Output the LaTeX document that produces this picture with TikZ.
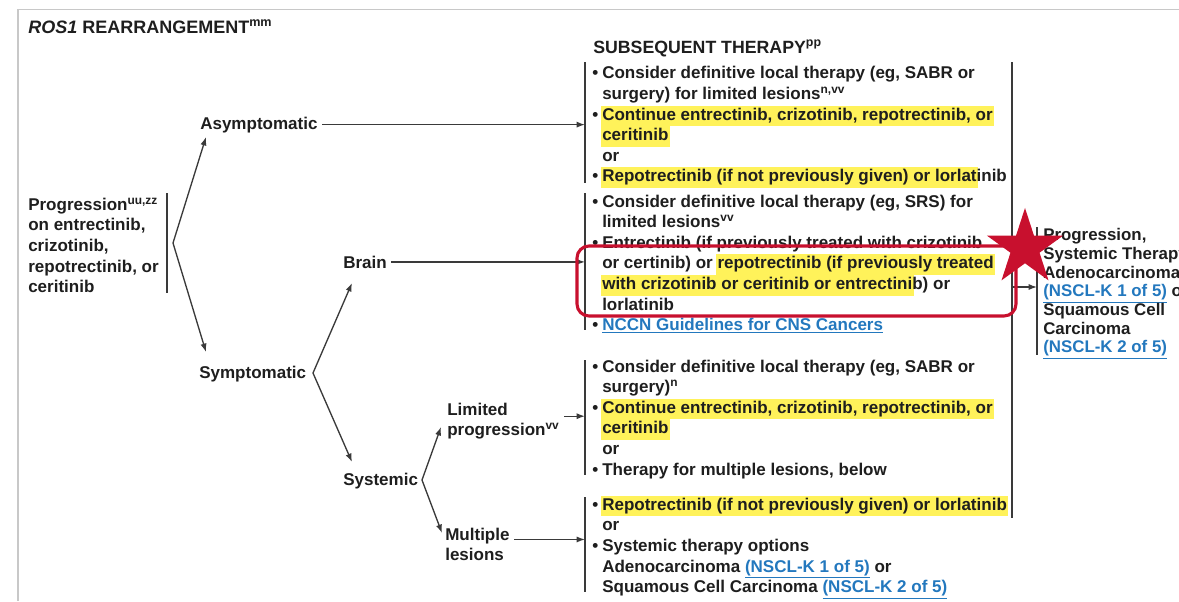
\documentclass[tikz,border=0pt]{standalone}
\usepackage{fontspec}
\setmainfont{Liberation Sans}
\usepackage{tikz}
\usetikzlibrary{arrows.meta, positioning, shapes.geometric}
\usepackage{xcolor}
\definecolor{hlyellow}{RGB}{255,242,90}
\definecolor{linkblue}{RGB}{35,120,190}
\definecolor{markred}{RGB}{200,16,46}
\definecolor{linegray}{RGB}{58,58,58}
\definecolor{framegray}{RGB}{200,200,200}
\definecolor{inkblack}{RGB}{30,30,30}
% bullet, continuation indent, highlight and link
\newcommand{\bitem}{\strut\makebox[7.1pt][l]{•}}
\newcommand{\cont}{\hspace*{7.1pt}}
\newcommand{\hlt}[1]{\kern-1pt{\setlength{\fboxsep}{0pt}\colorbox{hlyellow}{\kern1pt\strut #1\kern1pt}}\kern-1pt}
\newcommand{\lnk}[1]{\textcolor{linkblue}{\underline{#1}}}
\tikzset{%
	branch label/.style={
		anchor=base west,
		inner sep=0pt
	},
	option block/.style={
		anchor=north west,
		inner sep=0pt,
		align=left
	},
	flow arrow/.style={
		draw=linegray,
		line width=0.95pt,
		shorten <=3pt,
		-{Latex[length=6pt,width=4.4pt]}
	},
	side bar/.style={
		draw=linegray,
		line width=1.1pt
	},
}

\begin{document}
\begin{tikzpicture}[x=0.025cm, y=-0.025cm, text=inkblack,
		font=\bfseries\fontsize{12.1}{14.65}\selectfont]
			\useasboundingbox (0,0) rectangle (1179,601);
			\clip (0,0) rectangle (1179,601);
			
			% Page frame
			\draw[framegray, line width=1pt] (18,601) -- (18,9.5) -- (1179,9.5);
			
			% Headings
			\node[branch label, font=\bfseries\fontsize{12.8}{15}\selectfont] (title) at (28,33) {\textit{ROS1} REARRANGEMENT\textsuperscript{mm}};
			\node[branch label, font=\bfseries\fontsize{12.6}{15}\selectfont] (subhead) at (593,53) {SUBSEQUENT THERAPY\textsuperscript{pp}};
			
			% Starting condition
			\node[option block] (prog) at (28,195.6) {\strut Progression\textsuperscript{uu,zz}\\
				on entrectinib,\\ crizotinib,\\ repotrectinib, or\\ ceritinib};
			\coordinate (prog top) at (167,193);
			\coordinate (prog bot) at (167,293);
			\draw[side bar] (prog top) -- (prog bot);
			\coordinate (fork prog) at (173,243);
			
			% Branch labels
			\node[branch label] (asym) at (200,129) {Asymptomatic};
			\node[branch label] (symp) at (199,378) {Symptomatic};
			\node[branch label] (brain) at (343,268) {Brain};
			\node[branch label] (syst) at (343,485) {Systemic};
			\node[option block] (limit) at (447,400.6) {\strut Limited\\ progression\textsuperscript{vv}};
			\node[option block] (multi) at (445,525.6) {\strut Multiple\\ lesions};
			\coordinate (fork symp) at (313,373);
			\coordinate (fork syst) at (422,480);
			
			% Forks
			\draw[flow arrow, shorten <=0pt] (fork prog) -- ([shift={(6,8)}]asym.base west);
			\draw[flow arrow, shorten <=0pt] (fork prog) -- ([shift={(7,-26)}]symp.base west);
			\draw[flow arrow, shorten <=0pt] (fork symp) -- ([shift={(9,15)}]brain.base west);
			\draw[flow arrow, shorten <=0pt] (fork symp) -- ([shift={(9,-23)}]syst.base west);
			\draw[flow arrow, shorten <=0pt] (fork syst) -- ([shift={(-6,26.4)}]limit.north west);
			\draw[flow arrow, shorten <=0pt] (fork syst) -- ([shift={(-3,7.4)}]multi.north west);
			
			% Therapy blocks
			\node[option block] (ther asym) at (592,64.1) {\bitem Consider definitive local therapy (eg, SABR or\\
				\cont surgery) for limited lesions\textsuperscript{n,vv}\\
				\bitem \hlt{Continue entrectinib, crizotinib, repotrectinib, or}\\
				\cont \hlt{ceritinib}\\
				\cont or\\
				\bitem \hlt{Repotrectinib (if not previously given) or lorlat}inib};
			\node[option block] (ther brain) at (592,192.3) {\bitem Consider definitive local therapy (eg, SRS) for\\
				\cont limited lesions\textsuperscript{vv}\\
				\bitem Entrectinib (if previously treated with crizotinib\\
				\cont or certinib) or \hlt{repotrectinib (if previously treated}\\
				\cont \hlt{with crizotinib or ceritinib or entrectini}b) or\\
				\cont lorlatinib\\
				\bitem \lnk{NCCN Guidelines for CNS Cancers}};
			\node[option block] (ther limit) at (592,357.3) {\bitem Consider definitive local therapy (eg, SABR or\\
				\cont surgery)\textsuperscript{n}\\
				\bitem \hlt{Continue entrectinib, crizotinib, repotrectinib, or}\\
				\cont \hlt{ceritinib}\\
				\cont or\\
				\bitem Therapy for multiple lesions, below};
			\node[option block] (ther multi) at (592,495.6) {\bitem \hlt{Repotrectinib (if not previously given) or lorlatinib}\\
				\cont or\\
				\bitem Systemic therapy options\\
				\cont Adenocarcinoma \lnk{(NSCL-K 1 of 5)} or\\
				\cont Squamous Cell Carcinoma \lnk{(NSCL-K 2 of 5)}};
			
			% Bars in front of the blocks
			\coordinate (bar asym) at (585,62);
			\coordinate (bar brain) at (585,193);
			\coordinate (bar limit) at (585,360);
			\coordinate (bar multi) at (585,497);
			\draw[side bar] (bar asym) -- (585,183);
			\draw[side bar] (bar brain) -- (585,330);
			\draw[side bar] (bar limit) -- (585,475);
			\draw[side bar] (bar multi) -- (585,592);
			
			% Arrows into the blocks
			\draw[flow arrow] (asym.east) -- (asym.east -| bar asym);
			\draw[flow arrow] (brain.east) -- (brain.east -| bar brain);
			\draw[flow arrow] ([yshift=0.1cm]limit.east) -- ([yshift=0.1cm]limit.east -| bar limit);
			\draw[flow arrow] ([yshift=0.1cm]multi.east) -- ([yshift=0.1cm]multi.east -| bar multi);
			
			% Closing bar and next step
			\coordinate (bar all) at (1012,62);
			\draw[side bar] (bar all) -- (1012,518);
			\node[option block, font=\bfseries\fontsize{12}{13.3}\selectfont] (next) at (1043,227.4) {\strut Progression,\\
				Systemic Therapy\\ Adenocarcinoma\\ \lnk{(NSCL-K 1 of 5)} or\\
				Squamous Cell\\ Carcinoma\\ \lnk{(NSCL-K 2 of 5)}};
			\coordinate (bar next) at (1037,227);
			\draw[side bar] (bar next) -- (1037,355);
			\draw[flow arrow, shorten <=0pt] (1012,287) coordinate (next from) -- (next from -| bar next);
			
			% Red marking
			\draw[markred, line width=2.2pt, rounded corners=0.3cm] (577,246) rectangle (1016,316);
			\node[star, star points=5, star point ratio=2.618, fill=markred, minimum size=2cm, inner sep=0pt] (mark) at (1025,248) {};
			
		\end{tikzpicture}
\end{document}
